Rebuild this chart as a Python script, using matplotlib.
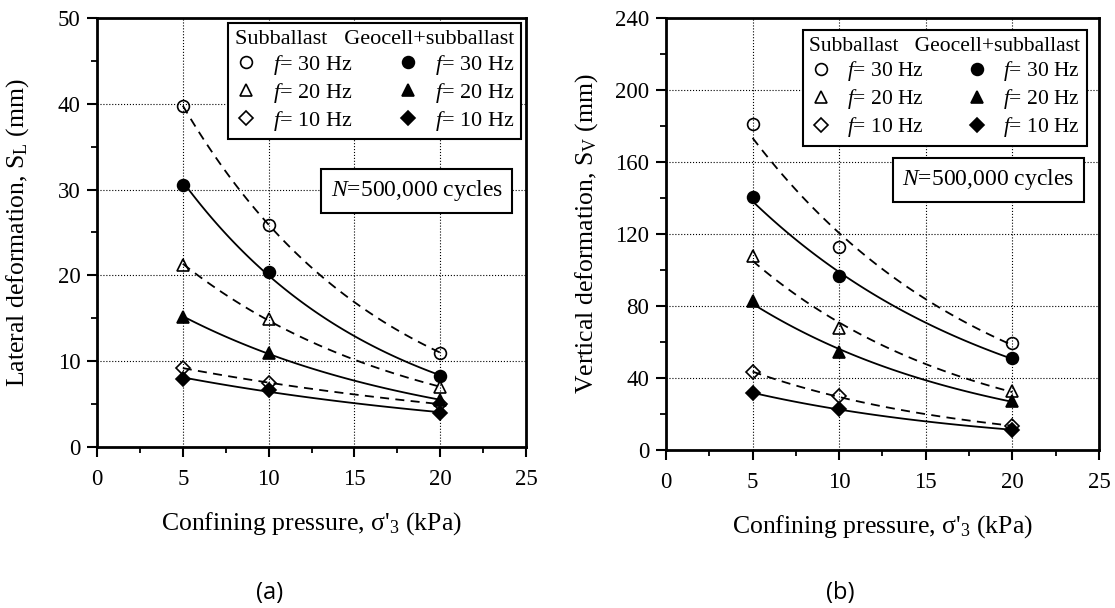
import numpy as np
import matplotlib as mpl
mpl.use('Agg')
import matplotlib.pyplot as plt
from matplotlib.lines import Line2D
from matplotlib.ticker import MultipleLocator

plt.rcParams['font.family'] = ['Liberation Serif', 'DejaVu Serif']
plt.rcParams['mathtext.fontset'] = 'custom'
plt.rcParams['mathtext.rm'] = 'Liberation Serif'
plt.rcParams['mathtext.it'] = 'Liberation Serif:italic'

# confining pressure (kPa)
pressure = [5, 10, 20]
freq_labels = ['$f$= 30 Hz', '$f$= 20 Hz', '$f$= 10 Hz']

# lateral deformation S_L (mm)
lat_sub_30 = [39.8, 25.9, 11.0]
lat_sub_20 = [21.2, 14.9, 7.0]
lat_sub_10 = [9.2, 7.5, 5.0]
lat_geo_30 = [30.5, 20.4, 8.3]
lat_geo_20 = [15.2, 10.9, 5.5]
lat_geo_10 = [7.9, 6.7, 4.0]

# vertical deformation S_V (mm)
vert_sub_30 = [181, 113, 59.5]
vert_sub_20 = [108, 68, 32.6]
vert_sub_10 = [43.2, 29.8, 13.4]
vert_geo_30 = [140.5, 96.4, 51]
vert_geo_20 = [82.8, 54.5, 27]
vert_geo_10 = [31.6, 22.7, 11.2]

markers = ['o', '^', 'D']
msizes = [8.5, 9, 7.5]


def expfit(vals):
    # exponential trend line through the three points
    b, a = np.polyfit(pressure, np.log(vals), 1)
    xf = np.linspace(min(pressure), max(pressure), 100)
    return xf, np.exp(a + b * xf)


def panel(ax, sub, geo, ymax, ymaj, ylabel, leg_anchor, leg_fs, nbox_xy):
    for vals, mk, ms in zip(sub, markers, msizes):
        xf, yf = expfit(vals)
        ax.plot(xf, yf, color='k', ls='--', dashes=(5, 3.5), lw=1.3, zorder=3)
        ax.plot(pressure, vals, ls='none', marker=mk, ms=ms, mfc='none',
                mec='k', mew=1.2, zorder=4)
    for vals, mk, ms in zip(geo, markers, msizes):
        xf, yf = expfit(vals)
        ax.plot(xf, yf, color='k', ls='-', lw=1.3, zorder=3)
        ax.plot(pressure, vals, ls='none', marker=mk, ms=ms, mfc='k',
                mec='k', mew=1.2, zorder=4)

    ax.set_xlim(0, 25)
    ax.set_ylim(0, ymax)
    ax.xaxis.set_major_locator(MultipleLocator(5))
    ax.xaxis.set_minor_locator(MultipleLocator(2.5))
    ax.yaxis.set_major_locator(MultipleLocator(ymaj))
    ax.yaxis.set_minor_locator(MultipleLocator(ymaj / 2))
    ax.tick_params(which='major', direction='out', length=7, width=1.5,
                   labelsize=16.5)
    ax.tick_params(axis='x', which='major', pad=9)
    ax.tick_params(axis='y', which='major', pad=5)
    ax.tick_params(which='minor', direction='out', length=4, width=1.3)
    for s in ax.spines.values():
        s.set_linewidth(2)
    ax.grid(True, which='major', ls=':', lw=0.8, color='k')
    ax.set_axisbelow(True)

    h = ax.get_window_extent().height
    w = ax.get_window_extent().width
    ax.set_xlabel("Confining pressure, σ'$_{3}$ (kPa)", fontsize=18.5)
    ax.xaxis.set_label_coords(0.5, -63 / h)
    ax.set_ylabel(ylabel, fontsize=18.5)
    ax.yaxis.set_label_coords(-66 / w, 0.5)

    handles = [Line2D([], [], ls='none', marker=m, ms=s, mfc='none', mec='k', mew=1.2)
               for m, s in zip(markers, msizes)]
    handles += [Line2D([], [], ls='none', marker=m, ms=s, mfc='k', mec='k', mew=1.2)
                for m, s in zip(markers, msizes)]
    leg = ax.legend(handles, freq_labels + freq_labels, ncol=2, loc='upper right',
                    bbox_to_anchor=leg_anchor, borderaxespad=0, fontsize=leg_fs,
                    title='Subballast   Geocell+subballast', title_fontsize=leg_fs,
                    fancybox=False, framealpha=1, edgecolor='k',
                    handlelength=1.0, handletextpad=0.7, columnspacing=2.0,
                    labelspacing=0.18, borderpad=0.3)
    leg.get_frame().set_linewidth(1.5)
    leg.set_zorder(5)

    ax.text(nbox_xy[0], nbox_xy[1], '$N$=500,000 cycles', transform=ax.transAxes,
            ha='center', va='center', fontsize=17, zorder=5,
            bbox=dict(boxstyle='square,pad=0.4', fc='white', ec='k', lw=1.5))


fig = plt.figure(figsize=(11.15, 6.08), dpi=100)
ax1 = fig.add_axes([0.0870, 0.2648, 0.3848, 0.7056])
ax2 = fig.add_axes([0.5973, 0.2599, 0.3883, 0.7105])

panel(ax1, [lat_sub_30, lat_sub_20, lat_sub_10], [lat_geo_30, lat_geo_20, lat_geo_10],
      50, 10, 'Lateral deformation, S$_{\\mathrm{L}}$ (mm)', (0.988, 0.988), 16,
      (0.745, 0.597))
panel(ax2, [vert_sub_30, vert_sub_20, vert_sub_10], [vert_geo_30, vert_geo_20, vert_geo_10],
      240, 40, 'Vertical deformation, S$_{\\mathrm{V}}$ (mm)', (0.972, 0.972), 15.5,
      (0.745, 0.625))

fig.text(270 / 1115, 1 - 593 / 608, '(a)', ha='center', va='center',
         fontsize=17, family=['Open Sans', 'DejaVu Sans'])
fig.text(840 / 1115, 1 - 593 / 608, '(b)', ha='center', va='center',
         fontsize=17, family=['Open Sans', 'DejaVu Sans'])

fig.savefig('out.png', dpi=100)
